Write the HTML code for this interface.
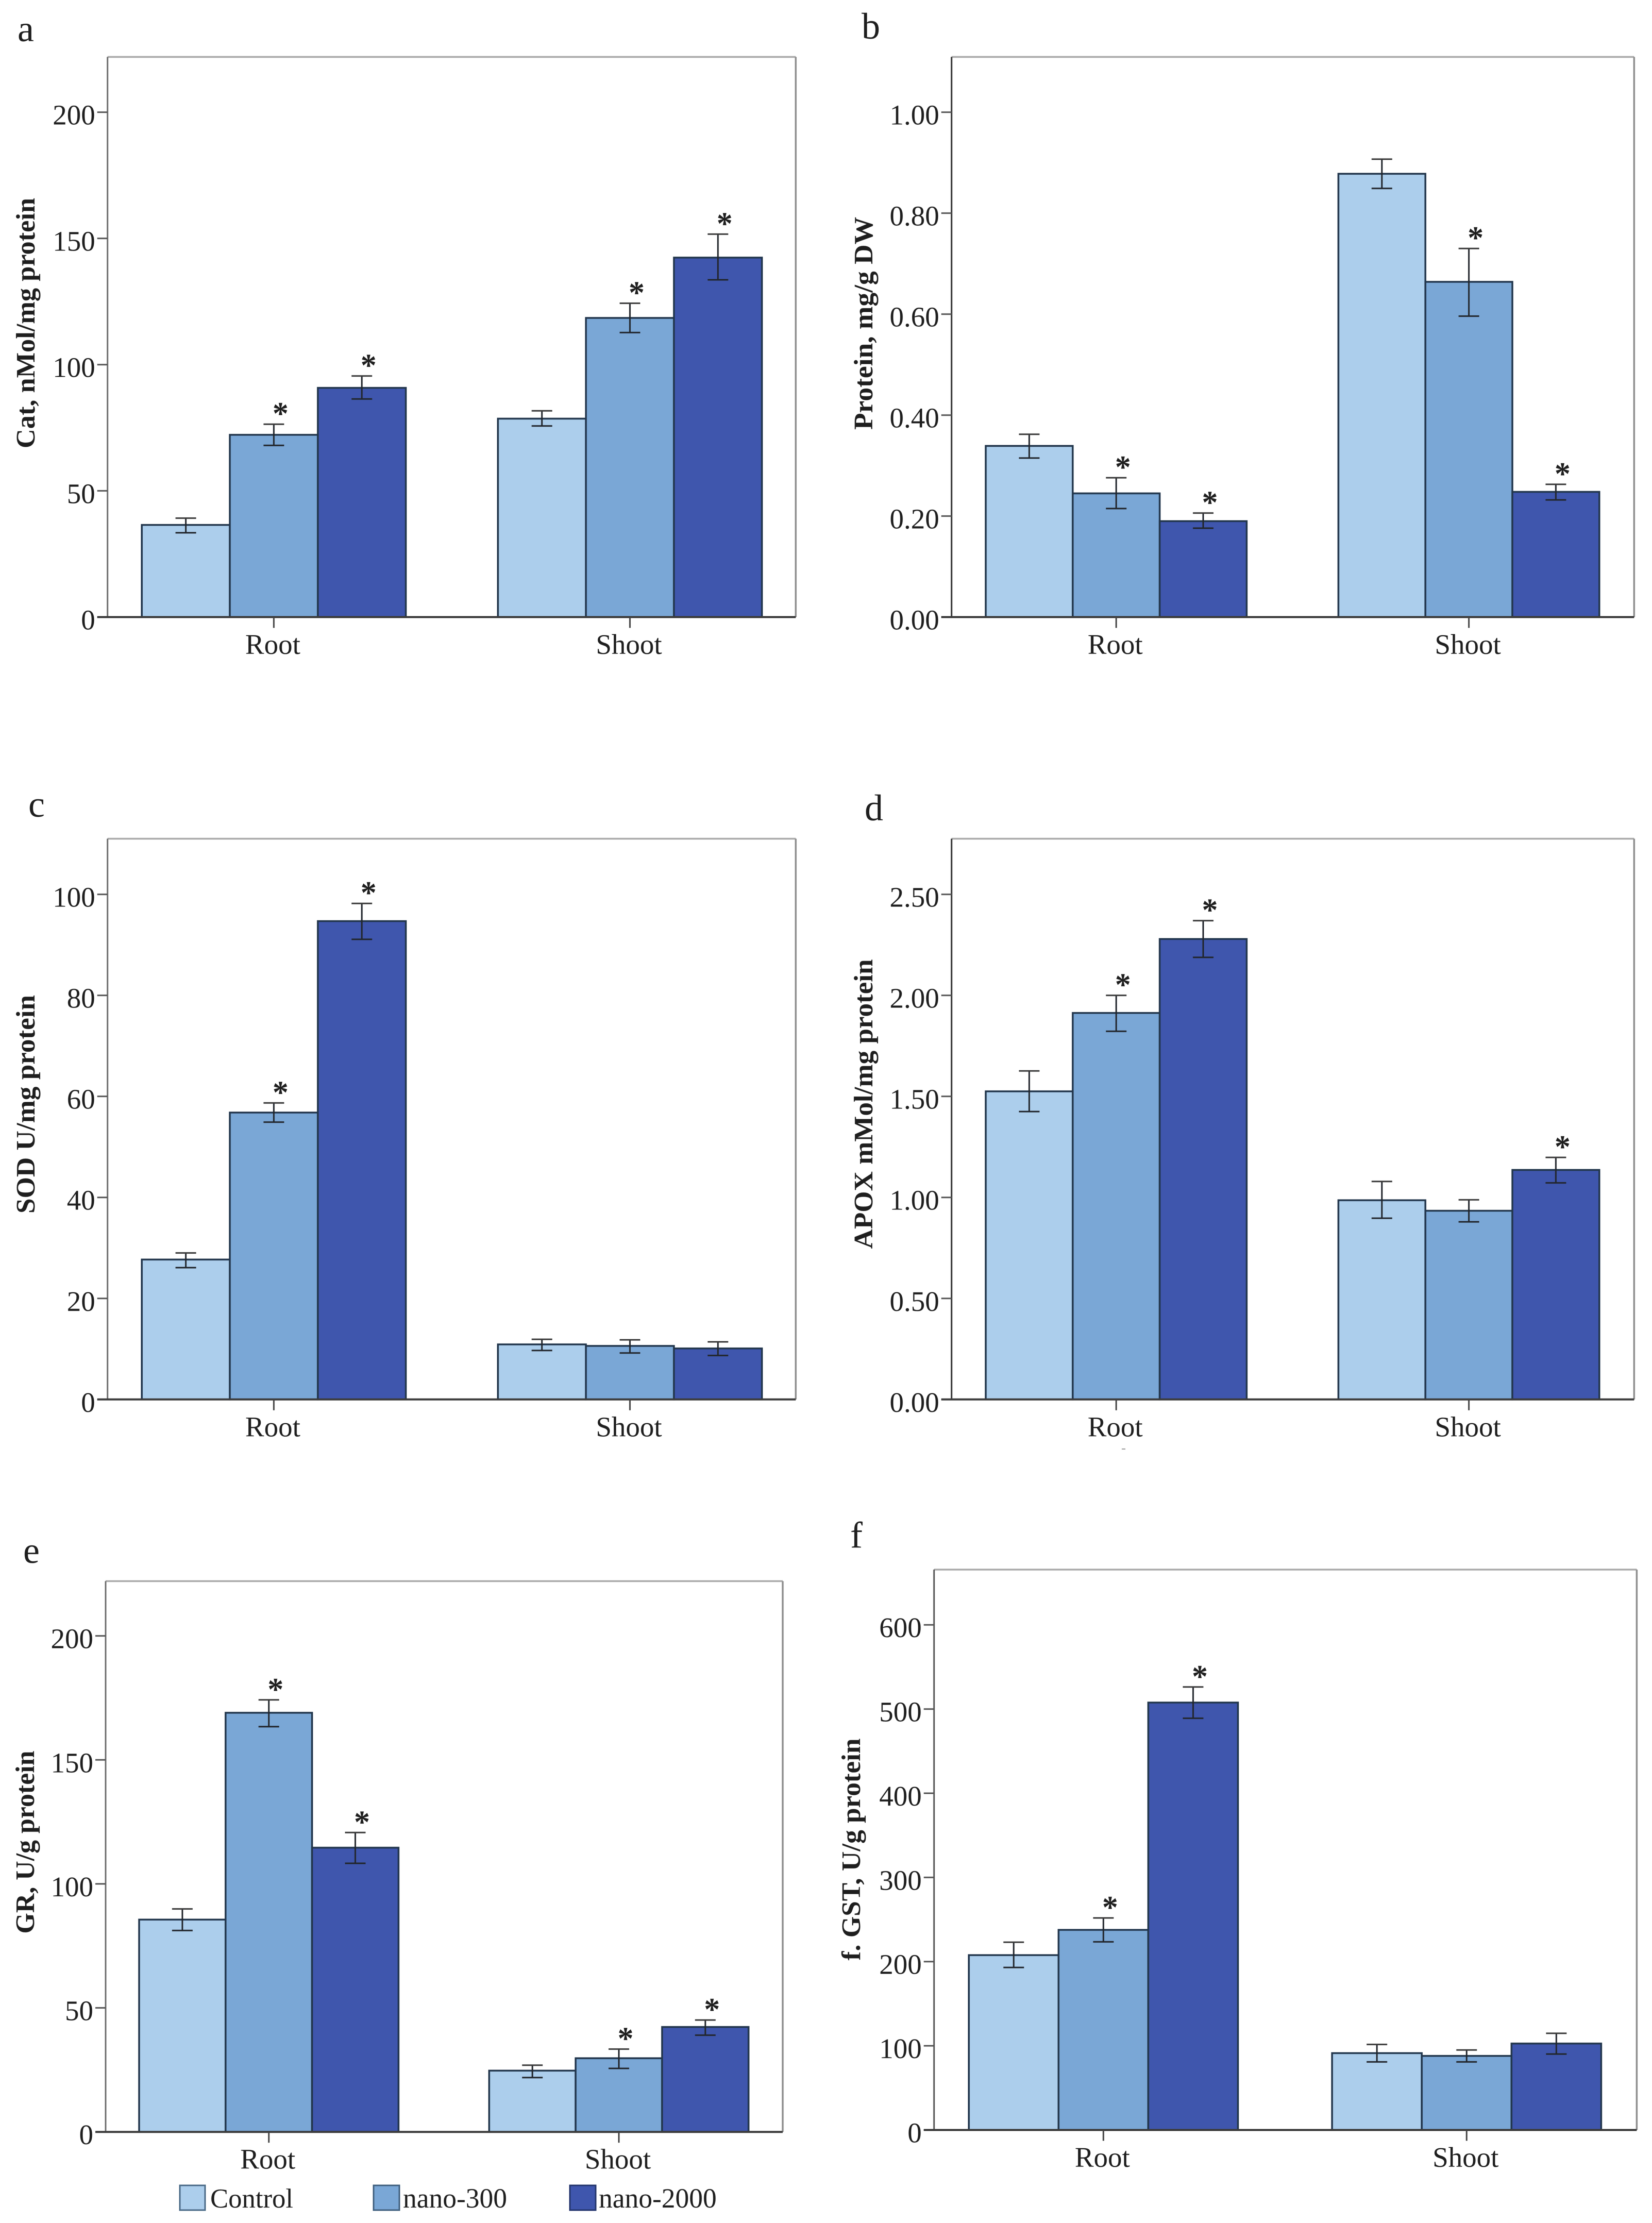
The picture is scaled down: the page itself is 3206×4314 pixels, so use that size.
<!DOCTYPE html>
<html>
<head>
<meta charset="utf-8">
<title>Antioxidant enzyme panels</title>
<style>
html,body{margin:0;padding:0;background:#fff;}
svg{display:block;filter:blur(0.7px);}
text{font-family:"Liberation Serif",serif;fill:#1e1e1e;}
</style>
</head>
<body>
<svg id="figure" xmlns="http://www.w3.org/2000/svg" width="3206" height="4314" viewBox="0 0 3206 4314">
<rect x="0" y="0" width="3206" height="4314" fill="#fff"/>
<g>
  <g>
    <rect x="349" y="4241" width="49" height="48" fill="#acceec" stroke="#4b6b88" stroke-width="3"/>
    <text x="408" y="4284" font-size="52.7">Control</text>
  </g>
  <g>
    <rect x="725" y="4241" width="50" height="48" fill="#7aa7d6" stroke="#40607f" stroke-width="3"/>
    <text x="782" y="4284" font-size="53.5">nano-300</text>
  </g>
  <g>
    <rect x="1106" y="4241" width="50" height="48" fill="#3f56ad" stroke="#24366e" stroke-width="3"/>
    <text x="1162" y="4284" font-size="53.5">nano-2000</text>
  </g>
</g>
<rect x="2177" y="2811" width="7" height="2" fill="#999"/>
</svg>
<script>
const categories = ['Root', 'Shoot'];
const seriesFills = ['#acceec', '#7aa7d6', '#3f56ad'];

const catTicks = [0, 50, 100, 150, 200];
const catTickLabels = ['0', '50', '100', '150', '200'];
const catMeans = [[36.5, 72.2, 90.8], [78.6, 118.5, 142.4]];
const catHigh = [[39.2, 76.4, 95.5], [81.7, 124.3, 151.7]];
const catLow = [[33.4, 68.0, 86.4], [75.7, 112.7, 133.6]];
const catStars = [[0, 1, 1], [0, 1, 1]];

const proteinTicks = [0, 0.2, 0.4, 0.6, 0.8, 1.0];
const proteinTickLabels = ['0.00', '0.20', '0.40', '0.60', '0.80', '1.00'];
const proteinMeans = [[0.339, 0.245, 0.190], [0.878, 0.664, 0.248]];
const proteinHigh = [[0.362, 0.276, 0.206], [0.907, 0.730, 0.263]];
const proteinLow = [[0.315, 0.215, 0.176], [0.849, 0.596, 0.232]];
const proteinStars = [[0, 1, 1], [0, 1, 1]];

const sodTicks = [0, 20, 40, 60, 80, 100];
const sodTickLabels = ['0', '20', '40', '60', '80', '100'];
const sodMeans = [[27.7, 56.8, 94.7], [10.9, 10.6, 10.1]];
const sodHigh = [[29.0, 58.7, 98.2], [11.9, 11.8, 11.4]];
const sodLow = [[26.1, 54.9, 91.1], [9.7, 9.2, 8.7]];
const sodStars = [[0, 1, 1], [0, 0, 0]];

const apoxTicks = [0, 0.5, 1.0, 1.5, 2.0, 2.5];
const apoxTickLabels = ['0.00', '0.50', '1.00', '1.50', '2.00', '2.50'];
const apoxMeans = [[1.525, 1.913, 2.279], [0.986, 0.934, 1.136]];
const apoxHigh = [[1.626, 2.000, 2.370], [1.079, 0.988, 1.198]];
const apoxLow = [[1.425, 1.822, 2.188], [0.897, 0.879, 1.072]];
const apoxStars = [[0, 1, 1], [0, 0, 1]];

const grTicks = [0, 50, 100, 150, 200];
const grTickLabels = ['0', '50', '100', '150', '200'];
const grMeans = [[85.6, 169.0, 114.6], [24.7, 29.7, 42.3]];
const grHigh = [[89.9, 174.2, 120.7], [26.9, 33.4, 45.1]];
const grLow = [[81.2, 163.4, 108.3], [21.9, 25.6, 39.0]];
const grStars = [[0, 1, 1], [0, 1, 1]];

const gstTicks = [0, 100, 200, 300, 400, 500, 600];
const gstTickLabels = ['0', '100', '200', '300', '400', '500', '600'];
const gstMeans = [[207.7, 237.7, 507.7], [91.3, 88.0, 102.7]];
const gstHigh = [[223.0, 251.9, 526.2], [101.6, 95.0, 114.8]];
const gstLow = [[193.0, 223.5, 489.0], [80.9, 80.9, 90.2]];
const gstStars = [[0, 1, 1], [0, 0, 0]];

const NS = 'http://www.w3.org/2000/svg';
function make(tag, attrs, parent, content) {
  const el = document.createElementNS(NS, tag);
  for (const key in attrs) { el.setAttribute(key, attrs[key]); }
  if (content !== undefined) { el.textContent = content; }
  parent.appendChild(el);
  return el;
}

function drawPanel(p) {
  const root = document.getElementById('figure');
  const g = make('g', {}, root);
  
  

  const maxTick = p.ticks[p.ticks.length - 1];
  const yScale = v => p.zero - (p.zero - p.maxTickY) * v / maxTick;
  const bandStart = i => p.groupStarts[i];
  const barX = (i, s) => bandStart(i) + s * p.barW;

  const letter = make('text', {x: p.letterX, y: p.letterY, 'font-size': 72}, g, p.id);
  
  

  const frameTop = make('line', {x1: p.left, x2: p.right, y1: p.top, y2: p.top, stroke: '#aaaaaa', 'stroke-width': 3.5}, g);
  
  

  const frameRight = make('line', {x1: p.right, x2: p.right, y1: p.top, y2: p.zero, stroke: '#8f8f8f', 'stroke-width': 3.5}, g);
  
  

  const yAxis = make('line', {x1: p.left, x2: p.left, y1: p.top, y2: p.zero, stroke: p.axisColor, 'stroke-width': 3}, g);
  
  

  p.ticks.forEach((t, i) => {
    const mark = make('line', {x1: p.left - 20, x2: p.left, y1: yScale(t), y2: yScale(t), stroke: '#555', 'stroke-width': 3}, g);
    
    
    const label = make('text', {x: p.left - 24, y: yScale(t) + 24, 'font-size': 55, 'text-anchor': 'end'}, g, p.tickLabels[i]);
    
    
  });

  const title = make('text', {
    transform: 'translate(' + p.titleX + ',' + p.titleY + ') rotate(-90)',
    'font-size': 52, 'font-weight': 'bold', 'text-anchor': 'middle',
    textLength: p.titleLen, lengthAdjust: 'spacingAndGlyphs'
  }, g, p.title);
  
  

  categories.forEach((cat, i) => {
    p.means[i].forEach((v, s) => {
      const bar = make('rect', {
        x: barX(i, s), y: yScale(v), width: p.barW, height: p.zero - yScale(v),
        fill: seriesFills[s], stroke: '#22364c', 'stroke-width': 3.5
      }, g);
      
      
    });
  });

  const xAxis = make('line', {x1: p.left - 20, x2: p.right, y1: p.zero, y2: p.zero, stroke: '#3c3c3c', 'stroke-width': 4}, g);
  
  

  categories.forEach((cat, i) => {
    const cx = bandStart(i) + 1.5 * p.barW;
    const xTick = make('line', {x1: cx, x2: cx, y1: p.zero, y2: p.zero + 21, stroke: '#444', 'stroke-width': 3}, g);
    
    
    const xLabel = make('text', {x: cx - 2, y: p.zero + 71.5, 'font-size': 55, 'text-anchor': 'middle'}, g, cat);
    
    

    p.means[i].forEach((v, s) => {
      const ex = barX(i, s) + p.barW / 2;
      const hi = yScale(p.high[i][s]);
      const lo = yScale(p.low[i][s]);
      const stem = make('line', {x1: ex, x2: ex, y1: hi, y2: lo, stroke: '#22262c', 'stroke-width': 3}, g);
      
      
      const capHigh = make('line', {x1: ex - 20, x2: ex + 20, y1: hi, y2: hi, stroke: '#3a3a3a', 'stroke-width': 3}, g);
      
      
      const capLow = make('line', {x1: ex - 20, x2: ex + 20, y1: lo, y2: lo, stroke: '#22262c', 'stroke-width': 3}, g);
      
      
      if (p.stars[i][s]) {
        const star = make('text', {x: ex + 13, y: hi, 'font-size': 62, 'font-weight': 'bold', 'text-anchor': 'middle'}, g, '*');
        
        
      }
    });
  });
}

drawPanel({id: 'a', left: 208.7, right: 1544.3, top: 110.5, zero: 1197.5, maxTickY: 217.7, axisColor: '#6e6e6e',
  groupStarts: [275.2, 966.3], barW: 170.8, letterX: 34, letterY: 80,
  title: 'Cat, nMol/mg protein', titleX: 67, titleY: 627, titleLen: 486,
  ticks: catTicks, tickLabels: catTickLabels, means: catMeans, high: catHigh, low: catLow, stars: catStars});

drawPanel({id: 'b', left: 1846.7, right: 3171.3, top: 110.5, zero: 1197.5, maxTickY: 217.7, axisColor: '#333',
  groupStarts: [1913, 2597.4], barW: 168.8, letterX: 1672, letterY: 75,
  title: 'Protein, mg/g DW', titleX: 1693, titleY: 627.5, titleLen: 413,
  ticks: proteinTicks, tickLabels: proteinTickLabels, means: proteinMeans, high: proteinHigh, low: proteinLow, stars: proteinStars});

drawPanel({id: 'c', left: 208.7, right: 1544.3, top: 1627.6, zero: 2715.8, maxTickY: 1735.6, axisColor: '#6e6e6e',
  groupStarts: [275.2, 966.3], barW: 170.8, letterX: 55, letterY: 1585,
  title: 'SOD U/mg protein', titleX: 67, titleY: 2143, titleLen: 424,
  ticks: sodTicks, tickLabels: sodTickLabels, means: sodMeans, high: sodHigh, low: sodLow, stars: sodStars});

drawPanel({id: 'd', left: 1846.7, right: 3171.3, top: 1627.6, zero: 2715.8, maxTickY: 1735.6, axisColor: '#333',
  groupStarts: [1913, 2597.4], barW: 168.8, letterX: 1678, letterY: 1592,
  title: 'APOX mMol/mg protein', titleX: 1693, titleY: 2142.5, titleLen: 562,
  ticks: apoxTicks, tickLabels: apoxTickLabels, means: apoxMeans, high: apoxHigh, low: apoxLow, stars: apoxStars});

drawPanel({id: 'e', left: 205, right: 1519, top: 3068.4, zero: 4137.2, maxTickY: 3174.6, axisColor: '#6e6e6e',
  groupStarts: [270, 949.3], barW: 167.8, letterX: 45, letterY: 3033,
  title: 'GR, U/g protein', titleX: 66, titleY: 3575, titleLen: 355,
  ticks: grTicks, tickLabels: grTickLabels, means: grMeans, high: grHigh, low: grLow, stars: grStars});

drawPanel({id: 'f', left: 1812.7, right: 3176.4, top: 3046, zero: 4133.5, maxTickY: 3153.2, axisColor: '#555',
  groupStarts: [1880.2, 2585.1], barW: 174.1, letterX: 1650, letterY: 3003,
  title: 'f. GST, U/g protein', titleX: 1669, titleY: 3589, titleLen: 431,
  ticks: gstTicks, tickLabels: gstTickLabels, means: gstMeans, high: gstHigh, low: gstLow, stars: gstStars});
</script>
</body>
</html>
